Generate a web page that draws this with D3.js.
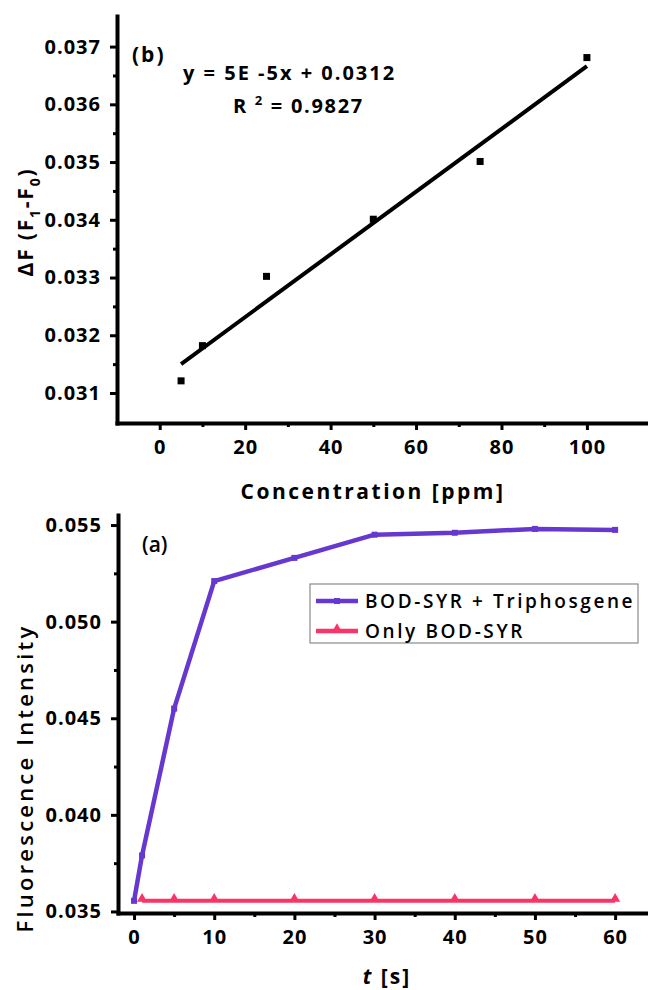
<!DOCTYPE html>
<html>
<head>
<meta charset="utf-8">
<script src="https://cdn.jsdelivr.net/npm/d3@7"></script>
<style>
  html, body { margin: 0; padding: 0; background: #fff; }
  svg { display: block; }
</style>
</head>
<body>
<div id="fig"></div>
<script>
// panel (b): calibration
const bConc = [5, 10, 25, 50, 75, 100];
const bDeltaF = [0.03121, 0.03182, 0.03302, 0.03401, 0.03501, 0.03681];
const bFitX = [5, 100];
const bFitY = [0.03150, 0.03666];
const bXTicks = [0, 20, 40, 60, 80, 100];
const bXMinor = [10, 30, 50, 70, 90];
const bYTicks = [0.031, 0.032, 0.033, 0.034, 0.035, 0.036, 0.037];
const bYMinor = [0.0315, 0.0325, 0.0335, 0.0345, 0.0355, 0.0365];

// panel (a): time response
const aTime = [0, 1, 5, 10, 20, 30, 40, 50, 60];
const aWithTri = [0.03555, 0.0379, 0.0455, 0.0521, 0.0533, 0.0545, 0.0546, 0.0548, 0.05475];
const aOnlyTime = [1, 5, 10, 20, 30, 40, 50, 60];
const aOnly = [0.03555, 0.03555, 0.03555, 0.03555, 0.03555, 0.03555, 0.03555, 0.03555];
const aXTicks = [0, 10, 20, 30, 40, 50, 60];
const aXMinor = [5, 15, 25, 35, 45, 55];
const aYTicks = [0.035, 0.040, 0.045, 0.050, 0.055];
const aYMinor = [0.0375, 0.0425, 0.0475, 0.0525];
const aSeries = ["BOD-SYR + Triphosgene", "Only BOD-SYR"];

const purple = "#6638d0";
const pink = "#f83468";
const font = "'Open Sans', 'DejaVu Sans', sans-serif";

const svg = d3.select("#fig").append("svg")
    .attr("width", 648)
    .attr("height", 990)
    .style("background", "#fff")
    .attr("font-family", font);

function drawAxes(g, x, y, xTicks, xMinor, yTicks, yMinor, yBottom, xLeft) {
  const fmt = d3.format(".3f");
  const xa = g.append("g")
      .attr("transform", `translate(0,${yBottom})`)
      .call(d3.axisBottom(x).tickValues(xTicks).tickSize(7).tickSizeOuter(0).tickPadding(10));
  xa.append("g")
      .call(d3.axisBottom(x).tickValues(xMinor).tickSize(4).tickSizeOuter(0).tickFormat(""))
      .select(".domain").remove();
  const ya = g.append("g")
      .attr("transform", `translate(${xLeft},0)`)
      .call(d3.axisLeft(y).tickValues(yTicks).tickSize(7).tickSizeOuter(0).tickPadding(9).tickFormat(fmt));
  ya.append("g")
      .call(d3.axisLeft(y).tickValues(yMinor).tickSize(4).tickSizeOuter(0).tickFormat(""))
      .select(".domain").remove();
  g.selectAll(".domain").attr("stroke-width", 4).attr("stroke-linecap", "square");
  g.selectAll(".tick line").attr("stroke-width", 3);
  g.selectAll(".tick text")
      .attr("font-family", font)
      .attr("font-size", 20)
      .attr("font-weight", "bold")
      .attr("letter-spacing", 1)
      .attr("fill", "#000");
}

// ---------- panel (b) ----------
const xb = d3.scaleLinear().domain([-10, 114.3]).range([117, 648]);
const yb = d3.scaleLinear().domain([0.03048, 0.03753]).range([423, 16]);
const gb = svg.append("g");
drawAxes(gb, xb, yb, bXTicks, bXMinor, bYTicks, bYMinor, 423, 117);

gb.append("path")
    .datum(bFitX.map((d, i) => [d, bFitY[i]]))
    .attr("fill", "none")
    .attr("stroke", "#000")
    .attr("stroke-width", 4)
    .attr("d", d3.line().x(d => xb(d[0])).y(d => yb(d[1])));

gb.selectAll(".pt")
  .data(bConc)
  .join("rect")
    .attr("x", d => xb(d) - 3.5)
    .attr("y", (d, i) => yb(bDeltaF[i]) - 3.5)
    .attr("width", 7)
    .attr("height", 7)
    .attr("fill", "#000");

gb.append("text").attr("x", 132).attr("y", 62)
    .attr("font-size", 21).attr("font-weight", "bold").attr("letter-spacing", 2)
    .text("(b)");
gb.append("text").attr("x", 183).attr("y", 80)
    .attr("font-size", 20).attr("font-weight", "bold").attr("letter-spacing", 2)
    .attr("xml:space", "preserve")
    .text("y = 5E -5x + 0.0312");
const r2 = gb.append("text").attr("x", 233).attr("y", 113)
    .attr("font-size", 20).attr("font-weight", "bold").attr("letter-spacing", 1.7);
r2.append("tspan").text("R ");
r2.append("tspan").attr("font-size", 13).attr("dy", -8).text("2");
r2.append("tspan").attr("dy", 8).text(" = 0.9827");

const ybl = gb.append("text")
    .attr("transform", "translate(33,222) rotate(-90)")
    .attr("text-anchor", "middle")
    .attr("font-size", 21).attr("font-weight", "bold").attr("letter-spacing", 1.8);
ybl.append("tspan").text("ΔF  (F");
ybl.append("tspan").attr("font-size", 14).attr("dy", 7).text("1");
ybl.append("tspan").attr("dy", -7).text("-F");
ybl.append("tspan").attr("font-size", 14).attr("dy", 7).text("0");
ybl.append("tspan").attr("dy", -7).text(")");

gb.append("text").attr("x", 373).attr("y", 499)
    .attr("text-anchor", "middle")
    .attr("font-size", 21).attr("font-weight", "bold").attr("letter-spacing", 2.5)
    .text("Concentration [ppm]");

// ---------- panel (a) ----------
const xa = d3.scaleLinear().domain([-2, 64.1]).range([118, 648]);
const ya = d3.scaleLinear().domain([0.03492, 0.05552]).range([913, 515]);
const ga = svg.append("g");
drawAxes(ga, xa, ya, aXTicks, aXMinor, aYTicks, aYMinor, 913, 118);

const line = d3.line().x(d => xa(d[0])).y(d => ya(d[1]));
const triSym = d3.symbol().type(d3.symbolTriangle).size(44);

ga.append("path")
    .datum(aOnlyTime.map((d, i) => [d, aOnly[i]]))
    .attr("fill", "none").attr("stroke", pink).attr("stroke-width", 4)
    .attr("d", line);
ga.selectAll(".tri")
  .data(aOnlyTime)
  .join("path")
    .attr("transform", (d, i) => `translate(${xa(d)},${ya(aOnly[i]) - 2})`)
    .attr("d", triSym)
    .attr("fill", pink);

ga.append("path")
    .datum(aTime.map((d, i) => [d, aWithTri[i]]))
    .attr("fill", "none").attr("stroke", purple).attr("stroke-width", 4.5)
    .attr("stroke-linejoin", "round")
    .attr("d", line);
ga.selectAll(".sq")
  .data(aTime)
  .join("rect")
    .attr("x", d => xa(d) - 3)
    .attr("y", (d, i) => ya(aWithTri[i]) - 3)
    .attr("width", 6).attr("height", 6)
    .attr("fill", purple);

ga.append("text").attr("x", 142).attr("y", 552)
    .attr("font-size", 21).attr("font-weight", 600)
    .text("(a)");

// legend
const lg = ga.append("g");
lg.append("rect").attr("x", 310).attr("y", 584).attr("width", 328).attr("height", 59)
    .attr("fill", "#fff").attr("stroke", "#8a8a8a").attr("stroke-width", 1.2);
const legY = [601, 631];
const legCol = [purple, pink];
aSeries.forEach((name, i) => {
  lg.append("line").attr("x1", 316).attr("x2", 358).attr("y1", legY[i]).attr("y2", legY[i])
      .attr("stroke", legCol[i]).attr("stroke-width", 4.5);
  if (i === 0) {
    lg.append("rect").attr("x", 334).attr("y", legY[i] - 3).attr("width", 6).attr("height", 6).attr("fill", purple);
  } else {
    lg.append("path").attr("transform", `translate(337,${legY[i] - 2})`).attr("d", triSym).attr("fill", pink);
  }
  lg.append("text").attr("x", 365).attr("y", legY[i] + 7)
      .attr("font-size", 19).attr("font-weight", 600).attr("letter-spacing", 2.6)
      .attr("xml:space", "preserve")
      .text(name);
});

ga.append("text")
    .attr("transform", "translate(33,778) rotate(-90)")
    .attr("text-anchor", "middle")
    .attr("font-size", 22).attr("font-weight", 600).attr("letter-spacing", 3.2)
    .text("Fluorescence Intensity");

const tl = ga.append("text").attr("x", 387).attr("y", 984)
    .attr("text-anchor", "middle")
    .attr("font-size", 21).attr("font-weight", "bold").attr("letter-spacing", 2);
tl.append("tspan").attr("font-style", "italic").text("t");
tl.append("tspan").text(" [s]");
</script>
</body>
</html>
